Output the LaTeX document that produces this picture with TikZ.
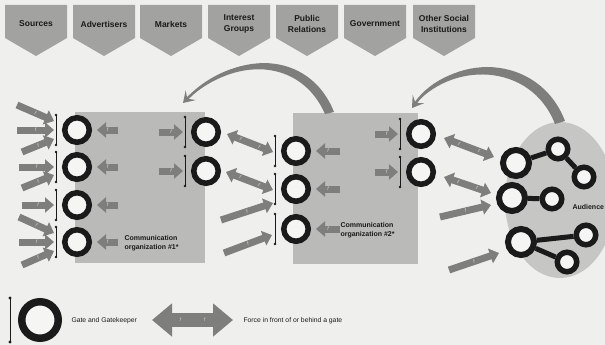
\documentclass[tikz,border=0pt]{standalone}
\usepackage{fontspec}
\setmainfont{Liberation Sans}
\usetikzlibrary{arrows.meta,shapes.geometric}
\definecolor{bgcol}{HTML}{EFF0ED}
\definecolor{innercol}{HTML}{F5F6F3}
\definecolor{bannercol}{HTML}{A2A2A0}
\definecolor{orgcol}{HTML}{BABAB8}
\definecolor{audcol}{HTML}{C6C6C4}
\definecolor{forcecol}{HTML}{7E7E7C}
\definecolor{gatecol}{HTML}{1A1A1A}
\tikzset{
  ftip/.tip={Triangle[width=15pt,length=9pt]},
  ltip/.tip={Triangle[width=32pt,length=20pt]},
  ctip/.tip={Stealth[length=11pt,width=14pt,inset=5pt]},
  gate/.style={circle,draw=gatecol,fill=innercol,line width=5.5pt,minimum size=24.5pt,inner sep=0pt},
  biggate/.style={gate,line width=6pt,minimum size=26pt},
  member/.style={gate,line width=5.5pt,minimum size=19.5pt},
  link/.style={draw=gatecol,line width=5pt},
  bracket/.style={draw=gatecol,line width=0.8pt},
  force/.style={draw=forcecol,line width=7pt,-ftip},
  dforce/.style={force,ftip-ftip},
  feedback/.style={draw=forcecol,line width=2.5pt,-ctip},
  fmark/.style={font=\fontsize{5}{5}\selectfont\itshape,text=white!70!forcecol,inner sep=0pt},
  org/.style={fill=orgcol,inner sep=0pt},
  bannertext/.style={font=\fontsize{8.5}{10.5}\selectfont\bfseries,align=center,text=gatecol},
  labeltext/.style={font=\fontsize{7}{9.5}\selectfont\bfseries,align=left,text=gatecol,anchor=west},
  legtext/.style={font=\fontsize{6.8}{8}\selectfont,text=gatecol,anchor=west}
}
\begin{document}
\begin{tikzpicture}[x=1pt,y=-1pt]
\path[use as bounding box,fill=bgcol] (0,0) rectangle (605,345);
\foreach \x/\nm/\txt in {36/src/Sources,104/adv/Advertisers,171/mkt/Markets,239/intg/{Interest\\Groups},307/pubr/{Public\\Relations},375/gov/Government,444/osi/{Other Social\\Institutions}}{
  \fill[bannercol] ({\x-31},5) -- ({\x+31},5) -- ({\x+31},38) -- (\x,56) -- ({\x-31},38) -- cycle;
  \node[bannertext] (\nm) at (\x,24) {\txt};
}
\node[ellipse,fill=audcol,minimum width=110pt,minimum height=156pt,inner sep=0pt] (aud) at (560,200) {};
\node[org,minimum width=130pt,minimum height=151pt] (org1) at (140,187.5) {};
\node[org,minimum width=125pt,minimum height=151pt] (org2) at (355.5,188.5) {};
\coordinate (fb1) at (183,103);
\coordinate (fb2) at (412,108);
\fill[forcecol] (334,112) .. controls (310,51) and (235,46) .. (fb1) .. controls (235,54) and (301,59) .. (325,114) -- cycle;
\draw[feedback] ([xshift=-26pt]org2.north) .. controls (305,55) and (235,50) .. (fb1);
\fill[forcecol] (565,121) .. controls (539,53) and (450,50) .. (fb2) .. controls (450,60) and (531,62) .. (555,124) -- cycle;
\draw[feedback] (aud.north) .. controls (535,58) and (450,55) .. (fb2);
\node[gate] (a1) at (77,130) {};
\node[gate] (a2) at (77,167) {};
\node[gate] (a3) at (77,205) {};
\node[gate] (a4) at (77,242) {};
\node[gate] (b1) at (206,132) {};
\node[gate] (b2) at (206,171) {};
\node[gate] (c1) at (296,151) {};
\node[gate] (c2) at (296,189) {};
\node[gate] (c3) at (296,229) {};
\node[gate] (d1) at (421,134) {};
\node[gate] (d2) at (421,172) {};
\foreach \g in {a1,a2,a3,a4,b1,b2,c1,c2,c3,d1,d2}{
  \draw[bracket] ([shift={(-6,-15)}]\g.west) -- ([shift={(-6,15)}]\g.west);
  \fill[gatecol] ([shift={(-6,-15)}]\g.west) circle[radius=1.4] ([shift={(-6,15)}]\g.west) circle[radius=1.4];
}
\foreach \g/\sx/\sy/\ey in {a1/-45/-25/-9,a1/-45/0/0,a1/-40/22/9,a2/-43/0/0,a2/-40/21/8,a3/-40/0/0,a4/-43/-25/-9,a4/-43/0/0,a4/-40/23/9}
  \draw[force] ([shift={(\sx,\sy)}]\g.west) -- ([shift={(-8,\ey)}]\g.west) node[fmark,midway,sloped]{f};
\foreach \g in {a1,a2,a3,a4}
  \draw[force] ([xshift=26pt]\g.east) -- ([xshift=5pt]\g.east) node[fmark,midway]{f};
\foreach \g in {b1,b2}
  \draw[force] ([xshift=-32pt]\g.west) -- ([xshift=-8pt]\g.west) node[fmark,midway]{f};
\foreach \g in {c1,c2,c3}
  \draw[force] ([xshift=29pt]\g.east) -- ([xshift=5pt]\g.east) node[fmark,midway]{f};
\foreach \g in {d1,d2}
  \draw[force] ([xshift=-31pt]\g.west) -- ([xshift=-8pt]\g.west) node[fmark,midway]{f};
\draw[dforce] ([shift={(6,2)}]b1.east) -- ([shift={(-8,1)}]c1.west) node[fmark,pos=.3,sloped]{f} node[fmark,pos=.7,sloped]{f};
\draw[dforce] ([shift={(5,1)}]b2.east) -- ([shift={(-8,1)}]c2.west) node[fmark,pos=.3,sloped]{f} node[fmark,pos=.7,sloped]{f};
\draw[force] ([shift={(-60,31)}]c2.west) -- ([shift={(-8,14)}]c2.west) node[fmark,midway,sloped]{f};
\draw[force] ([shift={(-57,24)}]c3.west) -- ([shift={(-9,6)}]c3.west) node[fmark,midway,sloped]{f};
\node[biggate] (m1) at (516,163) {};
\node[member] (m2) at (558,149) {};
\node[member] (m3) at (584,177) {};
\node[biggate] (m4) at (512,198) {};
\node[member] (m5) at (552,199) {};
\node[biggate] (m6) at (521,242) {};
\node[member] (m7) at (586,235) {};
\node[member] (m8) at (567,262) {};
\draw[link] (m1) -- (m2) -- (m3);
\draw[link] (m4) -- (m5);
\draw[link] (m6) -- (m7) (m6) -- (m8);
\draw[dforce] ([shift={(8,4)}]d1.east) -- ([shift={(-6,-6)}]m1.west) node[fmark,pos=.3,sloped]{f} node[fmark,pos=.7,sloped]{f};
\draw[dforce] ([shift={(8,5)}]d2.east) -- ([shift={(-5,-5)}]m4.west) node[fmark,pos=.3,sloped]{f} node[fmark,pos=.7,sloped]{f};
\draw[force] ([shift={(-56,19)}]m4.west) -- ([shift={(-5,7)}]m4.west) node[fmark,midway,sloped]{f};
\draw[force] ([shift={(-56,28)}]m6.west) -- ([shift={(-6,11)}]m6.west) node[fmark,midway,sloped]{f};
\node[labeltext] (org1l) at (121,243) {Communication\\organization \#1*};
\node[labeltext] (org2l) at (337,230) {Communication\\organization \#2*};
\node[labeltext] (audl) at (569,207) {Audience};
\node[gate,line width=7.5pt,minimum size=36.5pt] (lg) at (40,320) {};
\draw[bracket,line width=1pt] ([shift={(-8,-22)}]lg.west) -- ([shift={(-8,22)}]lg.west);
\fill[gatecol] ([shift={(-8,-22)}]lg.west) circle[radius=1.7] ([shift={(-8,22)}]lg.west) circle[radius=1.7];
\node[legtext] (lgt) at (68,321) {Gate and Gatekeeper};
\coordinate (la) at (152,320);
\coordinate (lb) at (233,320);
\draw[force,line width=14pt,ltip-ltip] (la) -- (lb) node[fmark,pos=.35]{f} node[fmark,pos=.65]{f};
\node[legtext] (lft) at (240,321) {Force in front of or behind a gate};
\end{tikzpicture}
\end{document}
